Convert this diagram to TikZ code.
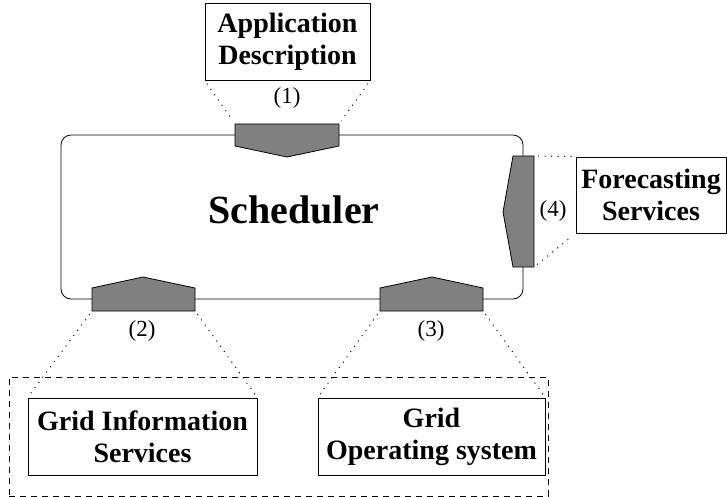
\documentclass[tikz,border=0pt]{standalone}
\usepackage{fontspec}
\setmainfont{Liberation Serif}
\usetikzlibrary{calc}

\begin{document}
\begin{tikzpicture}[x=1pt, y=-1pt, line width=0.8pt,
  box/.style={draw, fill=white, align=center, inner sep=0pt, font=\fontsize{28}{32}\selectfont\bfseries},
  conn/.style={draw, fill=gray, line join=miter},
  dotline/.style={line width=1pt, dash pattern=on 1pt off 5.5pt, shorten <=4pt, shorten >=4pt},
  num/.style={font=\fontsize{23}{26}\selectfont}]
  \useasboundingbox (0,0) rectangle (727,497); %全体
  \node[draw, dash pattern=on 6pt off 5pt, minimum width=539pt, minimum height=119pt] (infra) at (278.5,436.5) {}; %破線枠
  \node[draw, rounded corners=10pt, minimum width=462pt, minimum height=164pt] (sched) at (292,217) {}; %スケジューラ
  \node[font=\fontsize{40}{44}\selectfont\bfseries] (schedtxt) at (294,210) {Scheduler};
  \node[box, minimum width=165pt, minimum height=77pt] (appdesc) at (287.5,41.5) {Application\\Description}; %上の箱
  \node[box, minimum width=150pt, minimum height=76pt] (forecast) at (651,195) {Forecasting\\Services}; %右の箱
  \node[box, minimum width=229pt, minimum height=77pt] (gis) at (142.5,436.5) {Grid Information\\Services}; %左下の箱
  \node[box, minimum width=227pt, minimum height=77pt] (gos) at (431.5,436.5) {Grid\\Operating system}; %右下の箱
  % (1) 上
  \coordinate (c1tl) at (235,124);
  \coordinate (c1tr) at (339,124);
  \coordinate (c1br) at (339,146);
  \coordinate (c1tip) at (287,157);
  \coordinate (c1bl) at (235,146);
  \draw[conn] (c1tl)--(c1tr)--(c1br)--(c1tip)--(c1bl)--cycle;
  % (2) 左下
  \coordinate (c2bl) at (92,311);
  \coordinate (c2br) at (195,311);
  \coordinate (c2tr) at (195,288);
  \coordinate (c2tip) at (143,277);
  \coordinate (c2tl) at (92,288);
  \draw[conn] (c2bl)--(c2br)--(c2tr)--(c2tip)--(c2tl)--cycle;
  % (3) 右下
  \coordinate (c3bl) at (380,311);
  \coordinate (c3br) at (483,311);
  \coordinate (c3tr) at (483,288);
  \coordinate (c3tip) at (432,277);
  \coordinate (c3tl) at (380,288);
  \draw[conn] (c3bl)--(c3br)--(c3tr)--(c3tip)--(c3tl)--cycle;
  % (4) 右
  \coordinate (c4tr) at (534,156);
  \coordinate (c4br) at (534,267);
  \coordinate (c4bl) at (513,267);
  \coordinate (c4tip) at (503,212);
  \coordinate (c4tl) at (513,156);
  \draw[conn] (c4tr)--(c4br)--(c4bl)--(c4tip)--(c4tl)--cycle;
  \draw[dotline] (appdesc.south west)--(c1tl);
  \draw[dotline] (appdesc.south east)--(c1tr);
  \draw[dotline] (c2bl)--(gis.north west);
  \draw[dotline] (c2br)--(gis.north east);
  \draw[dotline] (c3bl)--(gos.north west);
  \draw[dotline] (c3br)--(gos.north east);
  \draw[dotline] (c4tr)--(forecast.north west);
  \draw[dotline] (c4br)--(forecast.south west);
  \node[num] (n1) at (287,98) {(1)};
  \node[num] (n2) at (142,331) {(2)};
  \node[num] (n3) at (431,331) {(3)};
  \node[num] (n4) at (553,211) {(4)};
\end{tikzpicture}
\end{document}
